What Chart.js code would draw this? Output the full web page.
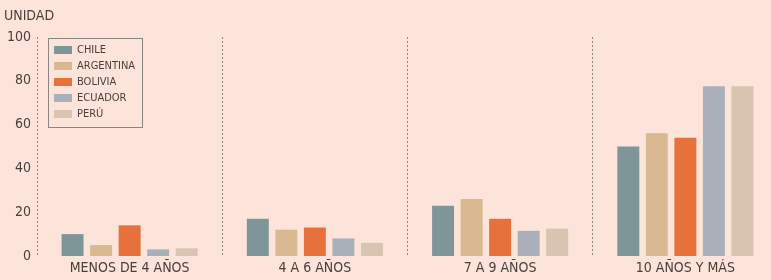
<!DOCTYPE html>
<html>
<head>
<meta charset="utf-8">
<script src="https://cdn.jsdelivr.net/npm/chart.js@4"></script>
<style>
html,body{margin:0;padding:0;background:#fce4da;overflow:hidden;width:771px;height:280px;}
#c{display:block;}
</style>
</head>
<body>
<canvas id="c" width="781" height="280"></canvas>
<script>
const categories = ['MENOS DE 4 AÑOS', '4 A 6 AÑOS', '7 A 9 AÑOS', '10 AÑOS Y MÁS'];
const seriesNames = ['CHILE', 'ARGENTINA', 'BOLIVIA', 'ECUADOR', 'PERÚ'];
const chile     = [10, 17, 23, 50];
const argentina = [5, 12, 26, 56];
const bolivia   = [14, 13, 17, 54];
const ecuador   = [3, 8, 11.5, 77.5];
const peru      = [3.5, 6, 12.5, 77.5];
const yTicks = [0, 20, 40, 60, 80, 100];
const colors = ['#7f9699', '#d9b98f', '#e6713a', '#a9b0ba', '#d8c4b0'];
const yAxisTitle = 'UNIDAD';

const values = [chile, argentina, bolivia, ecuador, peru];
const textColor = '#4a403b';
const FONT = '"DejaVu Sans Condensed", "DejaVu Sans", sans-serif';

const boxLegend = {
  id: 'boxLegend',
  afterDraw(chart) {
    const ctx = chart.ctx;
    const x0 = 48, y0 = 38, w = 94, h = 89;
    ctx.save();
    ctx.strokeStyle = '#8c8682';
    ctx.lineWidth = 1;
    ctx.strokeRect(x0 + 0.5, y0 + 0.5, w, h);
    ctx.font = '11px ' + FONT;
    ctx.textBaseline = 'middle';
    chart.data.datasets.forEach((ds, i) => {
      const cy = 50 + i * 16;
      ctx.fillStyle = ds.backgroundColor;
      ctx.fillRect(54, cy - 4, 18, 8);
      ctx.fillStyle = textColor;
      ctx.fillText(ds.label, 77, cy + 0.5);
    });
    ctx.font = '14px ' + FONT;
    ctx.textBaseline = 'alphabetic';
    ctx.fillText(yAxisTitle, 4, 20);
    ctx.restore();
  }
};

new Chart(document.getElementById('c'), {
  type: 'bar',
  data: {
    labels: categories,
    datasets: seriesNames.map((n, i) => ({
      label: n,
      data: values[i],
      backgroundColor: colors[i],
      borderWidth: 0,
      barPercentage: 0.77,
      categoryPercentage: 0.77
    }))
  },
  options: {
    responsive: false,
    animation: false,
    layout: { padding: { top: 37, right: 3, left: 0, bottom: 0 } },
    plugins: { legend: { display: false }, tooltip: { enabled: false } },
    scales: {
      x: {
        offset: true,
        grid: { display: true, offset: true, drawTicks: false, color: '#8a8580', lineWidth: 1 },
        border: { display: false, dash: [2, 2] },
        ticks: { color: textColor, font: { family: FONT, size: 14 }, padding: 4 },
        afterFit(s) { s.height = 24; }
      },
      y: {
        min: 0, max: 100,
        afterBuildTicks(s) { s.ticks = yTicks.map(v => ({ value: v })); },
        grid: { display: false, drawTicks: false, tickLength: 0 },
        border: { display: false },
        ticks: { color: textColor, font: { family: FONT, size: 14 }, padding: 6 },
        afterFit(s) { s.width = 37; }
      }
    }
  },
  plugins: [boxLegend]
});
</script>
</body>
</html>
